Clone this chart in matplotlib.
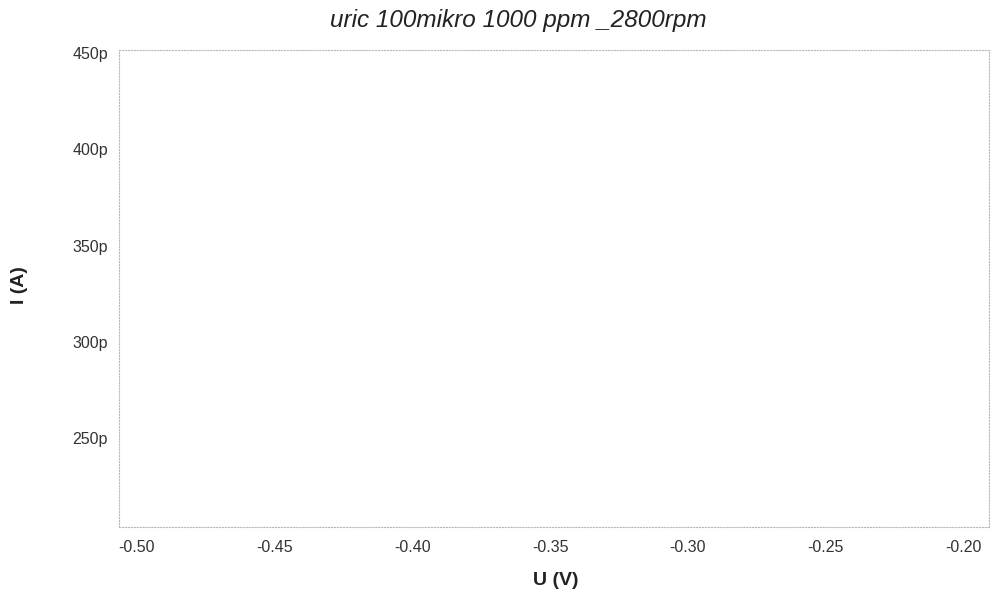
import numpy as np
import matplotlib.pyplot as plt

# Axis ticks (the trace itself is not visible)
u_ticks = [-0.50, -0.45, -0.40, -0.35, -0.30, -0.25, -0.20]
u_labels = ['-0.50', '-0.45', '-0.40', '-0.35', '-0.30', '-0.25', '-0.20']
i_ticks = [250e-12, 300e-12, 350e-12, 400e-12, 450e-12]
i_labels = ['250p', '300p', '350p', '400p', '450p']

u_range = [-0.5065, -0.1906]
i_range = [204e-12, 451.5e-12]

title = 'uric 100mikro 1000 ppm _2800rpm'

plt.rcParams['font.family'] = ['Liberation Sans', 'DejaVu Sans']

fig = plt.figure(figsize=(10, 5.98), dpi=100)
ax = fig.add_axes([0.119, 0.1187, 0.870, 0.7977])

ax.set_xlim(u_range)
ax.set_ylim(i_range)

ax.set_xticks(u_ticks)
ax.set_xticklabels(u_labels)
ax.set_yticks(i_ticks)
ax.set_yticklabels(i_labels)
ax.tick_params(length=0, labelsize=11.5, colors='#333333')
ax.tick_params(axis='y', pad=8)
ax.tick_params(axis='x', pad=9)

for s in ax.spines.values():
    s.set_color('#b8b8b8')
    s.set_linestyle(':')
    s.set_linewidth(0.8)

fig.text(0.518, 0.966, title, ha='center', va='center', fontsize=17.5,
         style='italic', color='#222222')
fig.text(0.556, 0.030, 'U (V)', ha='center', va='center', fontsize=14,
         fontweight='bold', color='#222222')
fig.text(0.020, 0.523, 'I (A)', ha='center', va='center', fontsize=14,
         fontweight='bold', rotation=90, color='#222222')

fig.savefig('out.png', dpi=100)
